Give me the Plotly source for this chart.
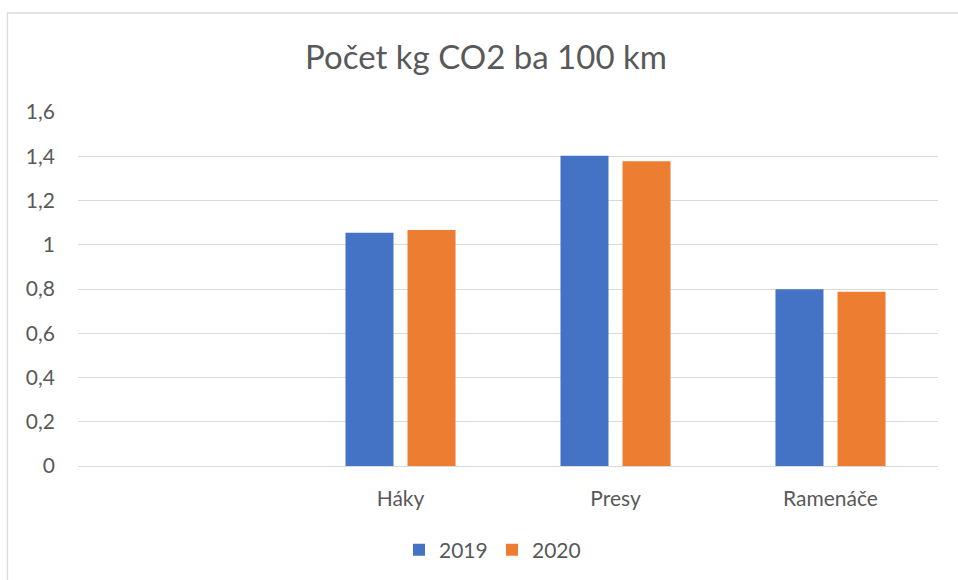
import plotly.graph_objects as go

categories = ["", "Háky", "Presy", "Ramenáče"]
series_names = ["2019", "2020"]
values_2019 = [None, 1.054, 1.402, 0.799]
values_2020 = [None, 1.067, 1.377, 0.788]
colors = ["#4472C4", "#ED7D31"]
y_ticks = [0, 0.2, 0.4, 0.6, 0.8, 1, 1.2, 1.4, 1.6]

W, H = 958, 580
L, R, T, B = 78, 938, 112, 466

fig = go.Figure()
for name, vals, col in zip(series_names, [values_2019, values_2020], colors):
    fig.add_trace(go.Bar(x=categories, y=vals, name=name, marker=dict(color=col, line=dict(width=0))))

font_family = "Lato, Carlito, Calibri, sans-serif"
fig.update_layout(
    width=W, height=H,
    margin=dict(l=L, r=W - R, t=T, b=H - B, pad=0),
    paper_bgcolor="white", plot_bgcolor="white",
    separators=", ",
    font=dict(family=font_family, color="#595959", size=21),
    title=dict(text="Počet kg CO2 ba 100 km", x=486 / W, xref="container", xanchor="center",
               y=1 - 57 / H, yref="container", yanchor="middle",
               font=dict(size=33, color="#595959", family=font_family)),
    barmode="group", bargap=0.423, bargroupgap=0.226,
    showlegend=True,
    legend=dict(orientation="h", x=492 / W, xanchor="center", xref="container",
                y=1 - 550 / H, yref="container", yanchor="middle",
                font=dict(size=21, color="#595959"), itemwidth=30, entrywidth=48,
                traceorder="normal"),
    xaxis=dict(type="category", categoryorder="array", categoryarray=categories,
               showgrid=False, showline=True, linecolor="#D9D9D9", linewidth=1.3,
               ticks="", ticklabelstandoff=14, tickfont=dict(size=21, color="#595959")),
    yaxis=dict(range=[0, 1.6], tickvals=y_ticks, showgrid=True, gridcolor="#D9D9D9", gridwidth=1.3,
               zeroline=True, zerolinecolor="#D9D9D9", zerolinewidth=1.3, showline=False,
               ticks="", ticklabelstandoff=22, tickfont=dict(size=21, color="#595959")),
)

pw, ph = R - L, B - T
fig.add_shape(type="rect", xref="paper", yref="paper",
              x0=(7.5 - L) / pw, x1=(W + 5 - L) / pw,
              y0=(B - (H + 5)) / ph, y1=(B - 13) / ph,
              line=dict(color="#D9D9D9", width=1.3), fillcolor="rgba(0,0,0,0)", layer="below")

fig.write_html("out.html", config={"displayModeBar": False},
               post_script="document.body.style.margin='0';document.body.style.overflow='hidden';")
